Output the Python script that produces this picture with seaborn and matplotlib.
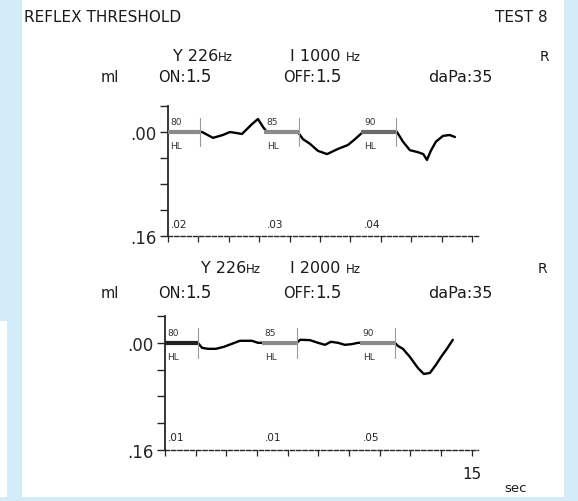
import matplotlib
matplotlib.use('Agg')
import matplotlib.pyplot as plt
import matplotlib.patches as mpatches
import pandas as pd
import seaborn as sns

# ---- data ----
top_t = [0, 1.58, 1.68, 2.22, 2.71, 3.06, 3.65, 3.90, 4.14, 4.44, 4.69, 4.88,
         6.41, 6.66, 7.0, 7.4, 7.85, 8.39, 8.88, 9.23, 9.62,
         11.3, 11.6, 11.94, 12.33, 12.6, 12.78, 12.97, 13.22, 13.57, 13.9, 14.16]
top_v = [0, 0, 0.0, 0.009, 0.0046, 0.0, 0.003, -0.0046, -0.012, -0.020, -0.0077, 0,
         0, 0.011, 0.018, 0.029, 0.034, 0.026, 0.020, 0.011, 0,
         0, 0.015, 0.028, 0.031, 0.034, 0.043, 0.029, 0.015, 0.006, 0.0046, 0.0077]

bot_t = [0, 1.61, 1.81, 2.10, 2.49, 2.88, 3.27, 3.66, 4.25, 4.54,
         6.45, 6.6, 7.08, 7.48, 7.82, 8.11, 8.45, 8.79, 9.14, 9.43,
         11.24, 11.38, 11.63, 11.97, 12.36, 12.65, 12.95, 13.24, 13.53, 13.78, 14.07]
bot_v = [0, 0, 0.0075, 0.009, 0.009, 0.006, 0.0015, -0.003, -0.003, 0,
         0, -0.0045, -0.004, 0, 0.003, -0.0015, 0, 0.003, 0.002, 0,
         0, 0.0045, 0.009, 0.021, 0.0375, 0.0465, 0.045, 0.033, 0.0195, 0.009, -0.0045]

stim_start = [0, 4.75, 9.55]
stim_end = [1.6, 6.45, 11.25]
levels = ['80', '85', '90']
top_amps = ['.02', '.03', '.04']
bot_amps = ['.01', '.01', '.05']
ytick_vals = [-0.04, 0.0, 0.04, 0.08, 0.12, 0.16]
ytick_labels = ['', '.00', '', '', '', '.16']
xtick_vals = [0, 1.5, 3, 4.5, 6, 7.5, 9, 10.5, 12, 13.5, 15]

sns.set_style('white')
plt.rcParams['font.family'] = ['DejaVu Sans']

W, H = 578, 502
fig = plt.figure(figsize=(W / 100, H / 100), dpi=100)
fig.patch.set_facecolor('#d3ecf8')
fig.add_artist(mpatches.Rectangle((22 / W, 4 / H), 542 / W, 498 / H, transform=fig.transFigure,
                                  facecolor='white', edgecolor='none', zorder=0))
fig.add_artist(mpatches.Rectangle((0, 4 / H), 7 / W, (498 - 322) / H, transform=fig.transFigure,
                                  facecolor='white', edgecolor='none', zorder=0))
renderer = fig.canvas.get_renderer()


def ptext(x, y, s, **kw):
    kw.setdefault('color', '#1a1a1a')
    return fig.text(x / W, 1 - y / H, s, **kw)


def runs(x, y, parts):
    """Draw consecutive text runs of different sizes on one baseline."""
    for s, size in parts:
        t = ptext(x, y, s, fontsize=size, va='baseline')
        x += t.get_window_extent(renderer).width


def panel(left, right, ytop, ybot, t, v, amps, bar_colors):
    ax = fig.add_axes([left / W, 1 - ybot / H, (right - left) / W, (ybot - ytop) / H])
    ax.patch.set_alpha(0)
    df = pd.DataFrame({'t': t, 'v': v})
    sns.lineplot(data=df, x='t', y='v', ax=ax, color='black', lw=1.7, sort=False, zorder=2)
    for s, e, lev, amp, bc in zip(stim_start, stim_end, levels, amps, bar_colors):
        ax.plot([s, e], [0, 0], color=bc, lw=3.0, solid_capstyle='butt', zorder=3)
        ax.plot([e, e], [-0.022, 0.022], color='#9a9a9a', lw=0.8, zorder=3)
        ax.text(s + 0.12, -0.016, lev, fontsize=6.5, va='center', ha='left', color='#333333')
        ax.text(s + 0.12, 0.021, 'HL', fontsize=6.5, va='center', ha='left', color='#333333')
        ax.text(s + 0.12, 0.141, amp, fontsize=7.5, va='center', ha='left', color='#222222')
    ax.set_xlim(0, 15.3)
    ax.set_ylim(0.16, -0.04)
    ax.set_yticks(ytick_vals)
    ax.set_yticklabels(ytick_labels, fontsize=12)
    ax.set_xticks(xtick_vals)
    ax.set_xticklabels([])
    ax.tick_params(axis='y', direction='out', length=6, width=1, left=True, pad=2)
    ax.tick_params(axis='x', direction='out', length=4, width=0.9, bottom=True)
    for sp in ['top', 'right']:
        ax.spines[sp].set_visible(False)
    ax.spines['left'].set_linewidth(1.3)
    ax.spines['left'].set_bounds(-0.04, 0.16)
    ax.spines['bottom'].set_linewidth(1.0)
    ax.spines['bottom'].set_linestyle((0, (3, 1.5)))
    ax.set_xlabel('')
    ax.set_ylabel('')
    return ax


panel(168, 478, 107, 237, top_t, top_v, top_amps, ['#8a8a8a', '#8a8a8a', '#6a6a6a'])
panel(165, 478, 317, 451, bot_t, bot_v, bot_amps, ['#222222', '#8a8a8a', '#8a8a8a'])

# header texts
ptext(24, 22, 'REFLEX THRESHOLD', fontsize=11, va='baseline')
ptext(548, 22, 'TEST 8', fontsize=11, va='baseline', ha='right')

runs(173, 61, [('Y 226', 11.5), ('Hz', 8.5)])
runs(290, 61, [('I 1000 ', 11.5), ('Hz', 8.5)])
ptext(540, 61, 'R', fontsize=10, va='baseline')
runs(101, 82, [('ml', 10.5)])
runs(158, 82, [('ON:', 10.5), ('1.5', 12)])
runs(283, 82, [('OFF:', 10.5), ('1.5', 12)])
runs(428, 82, [('daPa:35', 11.5)])

runs(201, 273, [('Y 226', 11.5), ('Hz', 8.5)])
runs(290, 273, [('I 2000 ', 11.5), ('Hz', 8.5)])
ptext(538, 273, 'R', fontsize=10, va='baseline')
runs(101, 298, [('ml', 10.5)])
runs(158, 298, [('ON:', 10.5), ('1.5', 12)])
runs(283, 298, [('OFF:', 10.5), ('1.5', 12)])
runs(428, 298, [('daPa:35', 11.5)])

ptext(462, 479, '15', fontsize=11, va='baseline')
ptext(504, 492, 'sec', fontsize=9.5, va='baseline')

fig.savefig('out.png', dpi=100, facecolor=fig.get_facecolor())
